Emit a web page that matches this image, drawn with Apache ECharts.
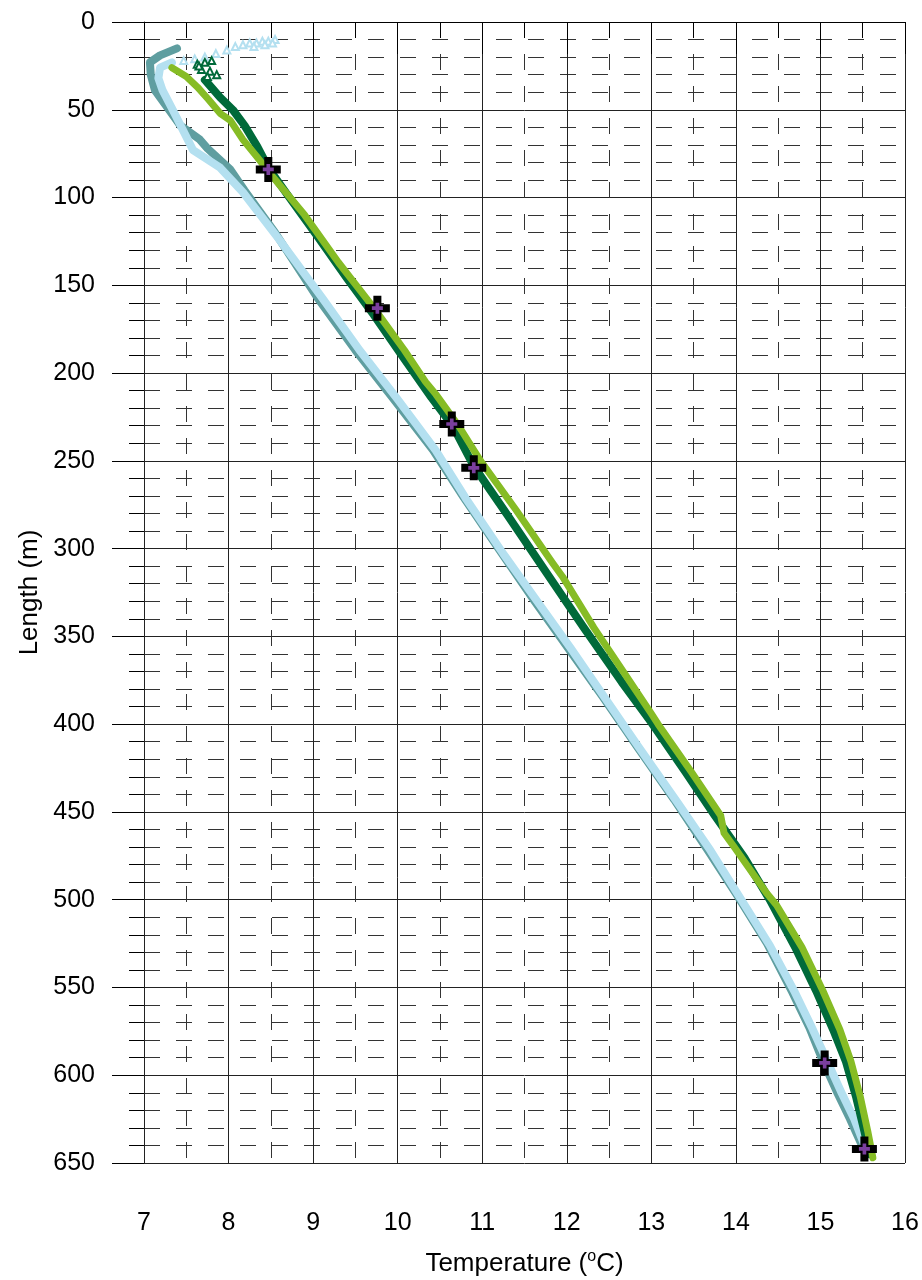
<!DOCTYPE html>
<html>
<head>
<meta charset="utf-8">
<script src="https://cdn.jsdelivr.net/npm/echarts@6/dist/echarts.min.js"></script>
<style>
  html, body { margin: 0; padding: 0; background: #fff; }
  #chart { width: 922px; height: 1280px; }
</style>
</head>
<body>
<div id="chart"></div>
<script>
// tick labels
var tempTicks = [7, 8, 9, 10, 11, 12, 13, 14, 15, 16];
var lengthTicks = [0, 50, 100, 150, 200, 250, 300, 350, 400, 450, 500, 550, 600, 650];

// dark green trace
var darkGreenT = [7.72, 7.90, 8.05, 8.19, 8.34, 8.47, 8.69, 9.05, 9.40, 9.72, 10.05, 10.40, 10.65, 10.90, 11.30, 11.75, 12.20, 12.65, 13.00, 13.40, 13.75, 14.10, 14.40, 14.70, 14.95, 15.15, 15.30, 15.42, 15.52, 15.58];
var darkGreenL = [33, 43, 50, 59, 71, 83, 98, 122, 146, 167, 190, 214, 230, 253, 281, 313, 345, 376, 399, 427, 452, 476, 500, 527, 552, 574, 592, 612, 632, 645];
// dark green triangles at the top
var darkGreenTopT = [7.63, 7.72, 7.80, 7.68, 7.78, 7.86, 7.75, 7.65];
var darkGreenTopL = [24, 23, 22, 27, 28, 30, 31, 25];

// light green trace
var lightGreenT = [7.33, 7.50, 7.63, 7.76, 7.90, 8.02, 8.17, 8.34, 8.52, 8.90, 9.30, 9.72, 10.08, 10.33, 10.45, 10.72, 10.98, 11.40, 11.83, 11.95, 12.32, 12.75, 13.00, 13.08, 13.47, 13.82, 13.86, 13.98, 14.36, 14.48, 14.78, 15.03, 15.23, 15.36, 15.47, 15.56, 15.62];
var lightGreenL = [26, 31, 37, 44, 52, 56, 67, 77, 88, 110, 137, 163, 187, 205, 212, 230, 250, 278, 308, 316, 345, 376, 394, 400, 427, 452, 462, 470, 496, 503, 527, 552, 574, 592, 612, 632, 647];

// teal trace
var tealT = [7.39, 7.19, 7.07, 7.08, 7.13, 7.25, 7.43, 7.66, 7.75, 8.02, 8.19, 8.55, 9.05, 9.50, 9.97, 10.42, 10.77, 11.22, 11.62, 12.02, 12.42, 12.82, 13.27, 13.67, 14.02, 14.37, 14.67, 14.87, 15.03, 15.20, 15.35, 15.50];
var tealL = [15, 19, 23, 30, 39, 47, 59, 67, 72, 84, 96, 120, 157, 187, 216, 244, 270, 302, 330, 357, 384, 412, 443, 472, 498, 525, 553, 573, 592, 610, 625, 641];

// light blue trace
var lightBlueT = [7.33, 7.19, 7.17, 7.22, 7.34, 7.58, 7.90, 8.17, 8.60, 9.12, 9.55, 10.00, 10.45, 10.80, 11.25, 11.65, 12.05, 12.45, 12.85, 13.30, 13.70, 14.05, 14.40, 14.70, 14.90, 15.08, 15.25, 15.40, 15.53];
var lightBlueL = [23, 26, 32, 39, 50, 73, 83, 97, 124, 158, 187, 215, 244, 271, 303, 330, 357, 385, 413, 444, 472, 499, 526, 553, 573, 592, 610, 625, 641];
// light blue open triangles at the top
var lightBlueTopT = [8.55, 8.47, 8.40, 8.33, 8.25, 8.17, 8.08, 7.98, 7.85, 7.72, 7.60, 7.47, 8.43, 8.30, 8.52];
var lightBlueTopL = [10, 11, 11, 12, 12, 13, 14, 16, 18, 20, 21, 22, 13, 14, 12];

// cross markers
var markT = [8.47, 9.76, 10.64, 10.90, 15.05, 15.52];
var markL = [84, 163, 229, 254, 593, 642];

function pairs(xs, ys) {
  var out = [];
  for (var i = 0; i < xs.length; i++) out.push([xs[i], ys[i]]);
  return out;
}

var font = '"Liberation Sans", Arial, sans-serif';
var crossPath = 'path://M8.5,0 H16.5 V8.5 H25 V16.5 H16.5 V25 H8.5 V16.5 H0 V8.5 H8.5 Z';
var plusPath = 'path://M4,0 H8 V4 H12 V8 H8 V12 H4 V8 H0 V4 H4 Z';

var myChart = echarts.init(document.getElementById('chart'), null, { renderer: 'canvas' });

function lineSeries(name, xs, ys, color, width) {
  return {
    name: name,
    type: 'line',
    data: pairs(xs, ys),
    showSymbol: false,
    symbol: 'none',
    lineStyle: { color: color, width: width, cap: 'round', join: 'round' },
    z: 3
  };
}

var options = {
  animation: false,
  grid: { left: 144, right: 17, top: 22, bottom: 117, containLabel: false, outerBoundsMode: 'none' },
  xAxis: {
    type: 'value',
    min: tempTicks[0],
    max: tempTicks[tempTicks.length - 1],
    interval: 1,
    name: 'Temperature ({sup|o}C)',
    nameLocation: 'middle',
    nameGap: 86,
    nameTextStyle: {
      fontFamily: font, fontSize: 26, color: '#000',
      rich: { sup: { fontFamily: font, fontSize: 16, color: '#000', padding: [0, 0, 13, 0] } }
    },
    axisLine: { show: true, lineStyle: { color: '#000', width: 1 } },
    axisTick: { show: true, inside: false, length: 32, lineStyle: { color: '#000', width: 1 } },
    minorTick: { show: true, splitNumber: 2, length: 16, lineStyle: { color: '#000', width: 1 } },
    axisLabel: { fontFamily: font, fontSize: 25, color: '#000', margin: 48 },
    splitLine: { show: true, lineStyle: { color: '#222', width: 1 } },
    minorSplitLine: { show: true, lineStyle: { color: '#333', width: 1, type: [16, 16] } }
  },
  yAxis: {
    type: 'value',
    inverse: true,
    min: lengthTicks[0],
    max: lengthTicks[lengthTicks.length - 1],
    interval: 50,
    name: 'Length (m)',
    nameLocation: 'middle',
    nameGap: 97,
    nameRotate: 90,
    nameTextStyle: { fontFamily: font, fontSize: 26, color: '#000' },
    axisLine: { show: true, lineStyle: { color: '#222', width: 1 } },
    axisTick: { show: true, inside: false, length: 32, lineStyle: { color: '#000', width: 1 } },
    minorTick: { show: true, splitNumber: 5, length: 15, lineStyle: { color: '#000', width: 1 } },
    axisLabel: { fontFamily: font, fontSize: 25, color: '#000', margin: 49 },
    splitLine: { show: true, lineStyle: { color: '#222', width: 1 } },
    minorSplitLine: { show: true, lineStyle: { color: '#333', width: 1, type: [16, 16] } }
  },
  series: [
    lineSeries('teal', tealT, tealL, '#5f9ea0', 8),
    lineSeries('lightblue', lightBlueT, lightBlueL, '#b4e0f0', 8),
    {
      name: 'lightblue top',
      type: 'scatter',
      data: pairs(lightBlueTopT, lightBlueTopL),
      symbol: 'emptyTriangle',
      symbolSize: 7,
      itemStyle: { color: '#b4e0f0', borderColor: '#b4e0f0', borderWidth: 2, opacity: 1 },
      z: 3
    },
    lineSeries('darkgreen', darkGreenT, darkGreenL, '#006a3a', 8),
    {
      name: 'darkgreen top',
      type: 'scatter',
      data: pairs(darkGreenTopT, darkGreenTopL),
      symbol: 'emptyTriangle',
      symbolSize: 7,
      itemStyle: { color: '#006a3a', borderColor: '#006a3a', borderWidth: 1.5, opacity: 1 },
      z: 3
    },
    lineSeries('lightgreen', lightGreenT, lightGreenL, '#86bc25', 7),
    {
      name: 'cross',
      type: 'scatter',
      data: pairs(markT, markL),
      symbol: crossPath,
      symbolSize: 25,
      itemStyle: { color: '#000', opacity: 1 },
      z: 5
    },
    {
      name: 'plus',
      type: 'scatter',
      data: pairs(markT, markL),
      symbol: plusPath,
      symbolSize: 11,
      itemStyle: { color: '#7b3f9e', opacity: 1 },
      z: 6
    }
  ]
};

myChart.setOption(options);
</script>
</body>
</html>
